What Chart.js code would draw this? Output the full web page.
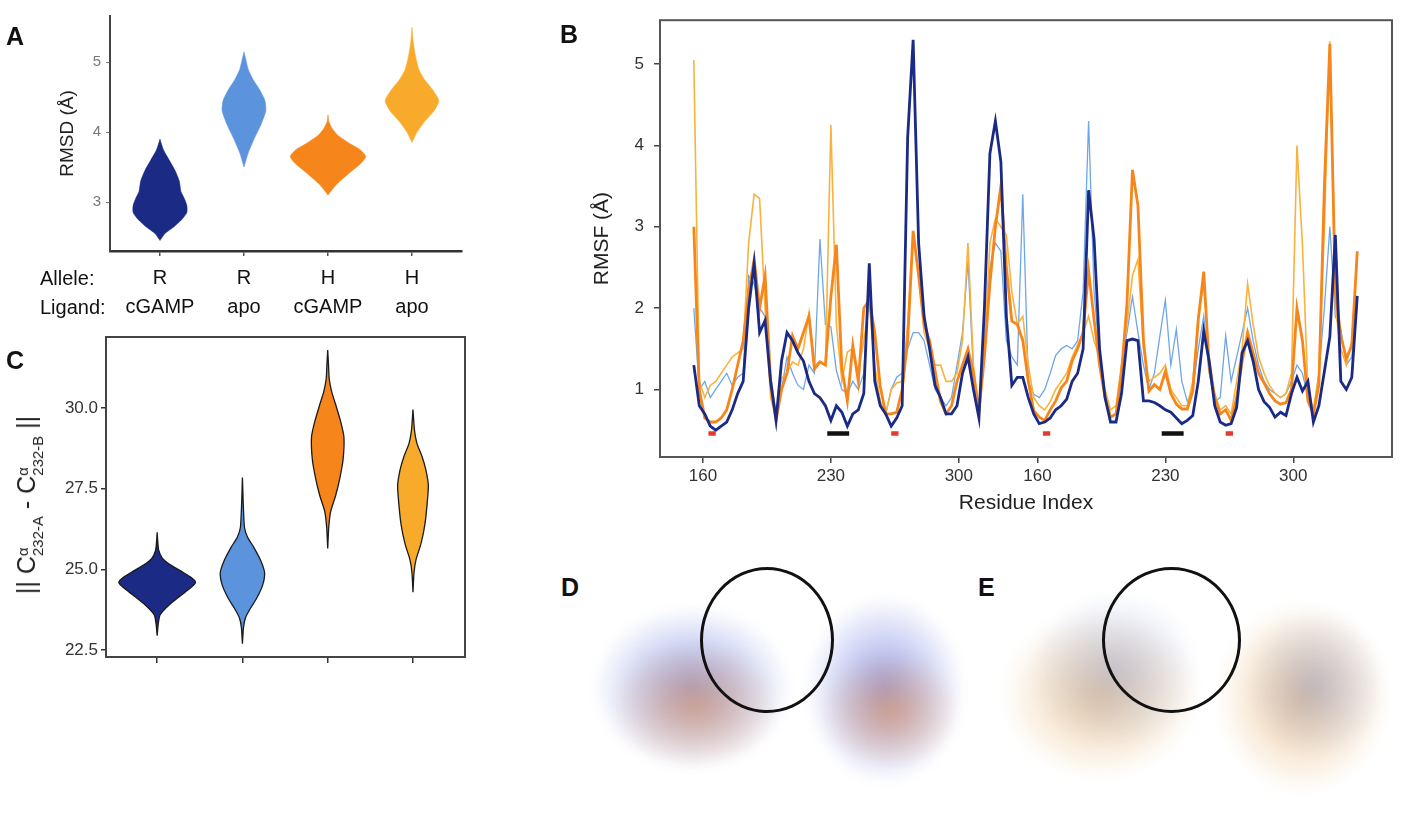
<!DOCTYPE html>
<html>
<head>
<meta charset="utf-8">
<title>RMSD / RMSF panels</title>
<script src="https://cdn.jsdelivr.net/npm/chart.js@4.4.1/dist/chart.umd.min.js"></script>
<style>
  body { margin:0; width:1403px; height:820px; overflow:hidden; position:relative; background:#fff;
         font-family:"Liberation Sans", Arial, Helvetica, sans-serif; color:#111; }
  canvas { position:absolute; }
  .panel { position:absolute; font-weight:bold; font-size:25px; line-height:1; }
  .rowlbl { position:absolute; font-size:20px; line-height:1; transform:translateY(-50%); }
  .ring { position:absolute; border:3px solid #111; border-radius:50%; box-sizing:border-box; }
  .blob { position:absolute; border-radius:50%; filter:blur(5px); }
  #ctitle { position:absolute; left:29px; top:505px; white-space:nowrap; font-size:25px;
            transform:translate(-50%,-50%) rotate(-90deg); color:#222; }
  .ss { display:inline-block; vertical-align:-0.55em; font-size:0.6em; line-height:1.05; text-align:left; }
  .ss span { display:block; }
</style>
</head>
<body>

<!-- structure renderings (panels D and E) are pictures; only a rough impression -->
<div class="blob" style="left:592px;top:605px;width:200px;height:165px;background:radial-gradient(ellipse,rgba(70,95,215,.55),rgba(70,95,215,0) 70%)"></div>
<div class="blob" style="left:610px;top:640px;width:170px;height:130px;background:radial-gradient(ellipse,rgba(225,140,75,.55),rgba(225,140,75,0) 70%)"></div>
<div class="blob" style="left:805px;top:595px;width:160px;height:190px;background:radial-gradient(ellipse,rgba(65,85,215,.55),rgba(65,85,215,0) 70%)"></div>
<div class="blob" style="left:820px;top:650px;width:140px;height:120px;background:radial-gradient(ellipse,rgba(230,140,70,.55),rgba(230,140,70,0) 70%)"></div>
<div class="blob" style="left:1000px;top:610px;width:200px;height:170px;background:radial-gradient(ellipse,rgba(225,165,85,.55),rgba(225,165,85,0) 70%)"></div>
<div class="blob" style="left:1030px;top:590px;width:170px;height:160px;background:radial-gradient(ellipse,rgba(130,150,210,.40),rgba(130,150,210,0) 70%)"></div>
<div class="blob" style="left:1215px;top:600px;width:175px;height:195px;background:radial-gradient(ellipse,rgba(225,160,75,.55),rgba(225,160,75,0) 70%)"></div>
<div class="blob" style="left:1245px;top:610px;width:140px;height:150px;background:radial-gradient(ellipse,rgba(120,140,210,.40),rgba(120,140,210,0) 70%)"></div>
<div class="ring" style="left:700px;top:567px;width:134px;height:146px"></div>
<div class="ring" style="left:1102px;top:567px;width:139px;height:146px"></div>

<canvas id="chartA" width="480" height="320" style="left:0;top:0"></canvas>
<canvas id="chartB" width="843" height="525" style="left:560px;top:0"></canvas>
<canvas id="chartC" width="480" height="370" style="left:0;top:320px"></canvas>

<div class="panel" style="left:6px;top:24px">A</div>
<div class="panel" style="left:560px;top:22px">B</div>
<div class="panel" style="left:6px;top:348px">C</div>
<div class="panel" style="left:561px;top:575px">D</div>
<div class="panel" style="left:978px;top:575px">E</div>

<div class="rowlbl" style="left:40px;top:278px">Allele:</div>
<div class="rowlbl" style="left:40px;top:307px">Ligand:</div>

<div id="ctitle">|| C<span class="ss"><span>α</span><span>232-A</span></span> - C<span class="ss"><span>α</span><span>232-B</span></span> ||</div>

<script>
'use strict';

// ── DATA ─────────────────────────────────────────────────────

const ALLELES = ['R', 'R', 'H', 'H'];
const LIGANDS = ['cGAMP', 'apo', 'cGAMP', 'apo'];
const CAT_POS = [1, 2, 3, 4];

// panel A: RMSD violins (level in Å, half width in category units)
const RMSD_TICKS = [3, 4, 5];
const RMSD_LEVELS_R_CGAMP = [2.45, 2.55, 2.65, 2.75, 2.85, 2.95, 3.05, 3.15, 3.3, 3.45, 3.6, 3.75, 3.9];
const RMSD_WIDTH_R_CGAMP  = [0, .06, .17, .26, .32, .32, .29, .25, .23, .18, .11, .04, 0];
const RMSD_LEVELS_R_APO   = [3.5, 3.7, 3.9, 4.1, 4.3, 4.45, 4.6, 4.75, 4.9, 5.05, 5.15];
const RMSD_WIDTH_R_APO    = [0, .05, .12, .20, .26, .25, .19, .11, .05, .02, 0];
const RMSD_LEVELS_H_CGAMP = [3.1, 3.25, 3.4, 3.55, 3.65, 3.75, 3.85, 3.95, 4.05, 4.15, 4.25];
const RMSD_WIDTH_H_CGAMP  = [0, .10, .24, .39, .45, .38, .24, .12, .05, .01, 0];
const RMSD_LEVELS_H_APO   = [3.85, 4.0, 4.15, 4.3, 4.45, 4.6, 4.75, 4.9, 5.1, 5.3, 5.5];
const RMSD_WIDTH_H_APO    = [0, .06, .15, .26, .32, .25, .15, .08, .04, .014, 0];

// panel C: C-alpha 232 distance violins
const DIST_TICKS = [22.5, 25.0, 27.5, 30.0];
const DIST_LEVELS_R_CGAMP = [22.95, 23.3, 23.6, 23.9, 24.2, 24.45, 24.6, 24.75, 24.95, 25.15, 25.35, 25.6, 25.9, 26.15];
const DIST_WIDTH_R_CGAMP  = [0, .012, .035, .14, .28, .40, .45, .40, .28, .15, .06, .018, .006, 0];
const DIST_LEVELS_R_APO   = [22.7, 23.2, 23.5, 23.8, 24.1, 24.5, 24.9, 25.3, 25.7, 26.0, 26.3, 27.0, 27.85];
const DIST_WIDTH_R_APO    = [0, .012, .035, .094, .165, .235, .26, .21, .13, .06, .024, .01, 0];
const DIST_LEVELS_H_CGAMP = [25.65, 26.3, 26.8, 27.3, 27.8, 28.4, 29.1, 29.6, 30.1, 30.5, 30.9, 31.3, 31.8];
const DIST_WIDTH_H_CGAMP  = [0, .012, .035, .094, .14, .18, .19, .15, .094, .047, .018, .01, 0];
const DIST_LEVELS_H_APO   = [24.3, 24.9, 25.3, 25.8, 26.4, 27.0, 27.6, 28.1, 28.5, 28.9, 29.3, 29.95];
const DIST_WIDTH_H_APO    = [0, .012, .035, .094, .14, .165, .18, .15, .106, .047, .018, 0];

// panel B: RMSF along chain A then chain B (sample index, 0 = residue 155 of chain A)
const SAMPLE_INDEX = [
  0, 3, 6, 9, 12, 15, 18, 21, 24, 27, 30, 33, 36, 39, 42, 45, 48, 51, 54, 57,
  60, 63, 66, 69, 72, 75, 78, 81, 84, 87, 90, 93, 96, 99, 102, 105, 108, 111, 114, 117,
  120, 123, 126, 129, 132, 135, 138, 141, 144, 147, 150, 153, 156, 159, 162, 165, 168, 171, 174, 177,
  180, 183, 186, 189, 192, 195, 198, 201, 204, 207, 210, 213, 216, 219, 222, 225, 228, 231, 234, 237,
  240, 243, 246, 249, 252, 255, 258, 261, 264, 267, 270, 273, 276, 279, 282, 285, 288, 291, 294, 297,
  300, 303, 306, 309, 312, 315, 318, 321, 324, 327, 330, 333, 336, 339, 342, 345, 348, 351, 354, 357,
  360, 363
];
const RMSF_R_CGAMP = [
  1.3, 0.8, 0.7, 0.55, 0.5, 0.55, 0.6, 0.75, 0.95, 1.1,
  2.0, 2.55, 1.7, 1.85, 1.1, 0.62, 1.35, 1.7, 1.6, 1.45,
  1.35, 1.1, 0.95, 0.9, 0.8, 0.62, 0.8, 0.72, 0.55, 0.7,
  0.75, 0.95, 2.55, 1.1, 0.8, 0.7, 0.55, 0.65, 0.8, 4.1,
  5.3, 2.8, 1.9, 1.5, 1.05, 0.9, 0.7, 0.7, 0.8, 1.2,
  1.4, 1.0, 0.65, 2.0, 3.9, 4.3, 3.8, 1.9, 1.05, 1.15,
  1.15, 0.9, 0.7, 0.58, 0.6, 0.65, 0.75, 0.8, 0.88, 1.1,
  1.2, 1.5, 3.45, 2.85, 1.5, 0.9, 0.6, 0.6, 0.95, 1.6,
  1.62, 1.6, 0.86, 0.86, 0.84, 0.8, 0.75, 0.72, 0.65, 0.58,
  0.62, 0.68, 1.1, 1.72, 1.34, 0.8, 0.6, 0.56, 0.58, 0.78,
  1.45, 1.6, 1.35, 1.0, 0.85, 0.78, 0.66, 0.72, 0.68, 0.95,
  1.15, 0.98, 1.1, 0.6, 0.8, 1.22, 1.65, 2.9, 1.1, 1.0,
  1.15, 2.15
];
const RMSF_R_APO = [
  2.0, 1.0, 1.1, 0.9, 1.0, 1.1, 1.2, 1.05, 1.15, 1.2,
  2.4, 2.3, 2.0, 1.9, 1.2, 0.7, 1.0, 1.4, 1.2, 1.05,
  1.0, 1.3, 1.2, 2.85, 1.8, 1.77, 1.23, 1.0, 0.95, 1.1,
  1.0, 1.2, 2.3, 1.2, 0.85, 0.7, 1.0, 1.15, 1.2, 1.5,
  1.7, 1.7, 1.6, 1.3, 1.0, 0.9, 0.8, 0.9, 1.3, 1.7,
  2.58, 1.2, 0.7, 1.6, 2.5, 2.8, 2.7, 1.6, 1.4, 1.3,
  3.4, 1.1, 0.94, 0.9, 1.0, 1.2, 1.42, 1.5, 1.54, 1.5,
  1.6, 2.2, 4.3, 2.2, 1.4, 0.9, 0.65, 0.7, 1.3, 1.7,
  2.14, 1.7, 1.3, 1.0, 1.2, 1.66, 2.1, 1.3, 1.74, 1.1,
  0.85, 1.0, 1.5, 1.9, 1.2, 0.85, 0.9, 1.66, 1.1, 1.4,
  1.7, 2.0, 1.6, 1.3, 1.1, 1.0, 0.95, 0.9, 0.95, 1.1,
  1.3, 1.2, 0.9, 0.7, 1.2, 2.0, 3.0, 1.9, 1.74, 1.3,
  1.4, 2.1
];
const RMSF_H_CGAMP = [
  3.0, 1.0, 0.65, 0.6, 0.6, 0.65, 0.75, 1.0, 1.3, 1.6,
  2.2, 2.6, 2.0, 2.4, 1.1, 0.62, 1.0, 1.2, 1.66, 1.5,
  1.7, 1.9, 1.25, 1.34, 1.3, 2.14, 2.78, 1.26, 0.86, 1.54,
  1.1, 2.0, 2.1, 1.7, 1.04, 0.7, 0.7, 0.72, 1.0, 1.6,
  2.95, 2.4, 1.8, 1.6, 1.23, 0.85, 0.7, 0.8, 1.1, 1.3,
  1.5, 1.2, 0.73, 1.4, 2.3, 3.0, 3.5, 2.5, 1.84, 1.8,
  1.6, 1.1, 0.74, 0.66, 0.62, 0.75, 0.86, 1.02, 1.1, 1.35,
  1.5, 1.7, 2.46, 1.86, 1.3, 0.9, 0.66, 0.7, 1.2, 2.06,
  3.7, 3.26, 1.6, 0.98, 1.06, 1.0, 1.22, 0.95, 0.82, 0.76,
  0.76, 0.98, 1.86, 2.45, 1.26, 0.9, 0.7, 0.75, 0.62, 0.9,
  1.34, 1.7, 1.45, 1.2, 1.08, 0.95, 0.86, 0.82, 0.84, 1.0,
  2.0, 1.6, 0.86, 0.7, 1.06, 3.5, 5.25, 2.2, 1.66, 1.38,
  1.54, 2.7
];
const RMSF_H_APO = [
  5.05, 1.1, 0.9, 1.05, 1.1, 1.2, 1.3, 1.4, 1.45, 1.5,
  2.8, 3.4, 3.35, 2.0, 0.9, 0.65, 1.14, 1.2, 1.34, 1.3,
  1.5, 1.94, 1.3, 1.34, 1.3, 4.25, 1.8, 1.1, 1.46, 1.5,
  1.2, 1.6, 2.06, 1.3, 0.85, 0.7, 1.0, 1.08, 1.1, 1.8,
  2.9, 2.4, 1.7, 1.5, 1.3, 1.3, 1.1, 1.1, 1.2, 1.6,
  2.8, 1.3, 0.75, 1.5, 2.8, 3.1, 3.0, 2.9, 2.2, 1.8,
  1.9, 1.3, 0.9, 0.8, 0.75, 0.85, 1.0, 1.1, 1.2, 1.4,
  1.55, 1.7, 1.9, 1.6, 1.4, 1.0, 0.75, 0.8, 1.3, 1.8,
  2.4, 2.6, 1.5, 1.1, 1.15, 1.2, 1.3, 1.0, 0.9, 0.8,
  0.8, 1.1, 1.9, 2.3, 1.4, 0.95, 0.75, 0.8, 0.7, 1.1,
  1.5, 2.3, 1.8, 1.4, 1.2, 1.05, 0.95, 0.9, 0.95, 1.2,
  4.0, 2.78, 1.0, 0.75, 1.2, 3.0, 5.28, 2.0, 1.5, 1.3,
  1.6, 2.6
];
const RMSF_TICKS = [1, 2, 3, 4, 5];
const RESIDUE_TICK_POS = [5, 75, 145, 188, 258, 328];
const RESIDUE_TICK_LABELS = ['160', '230', '300', '160', '230', '300'];
// marked stretches under the curves
const RED_MARK_FROM = [8, 108, 191, 291];
const RED_MARK_TO   = [12, 112, 195, 295];
const BLACK_MARK_FROM = [73, 256];
const BLACK_MARK_TO   = [85, 268];
const MARK_LEVEL = 0.46;

// ── STYLE ────────────────────────────────────────────────────

const FONT = '"Liberation Sans", Arial, Helvetica, sans-serif';
const NAVY = '#1b2a84';
const SKY = '#6ea6e6';
const ORANGE = '#f6861b';
const AMBER = '#f9b23c';

Chart.defaults.font.family = FONT;
Chart.defaults.animation = false;

// box round the plot area
const framePlugin = {
  id: 'frame',
  afterDatasetsDraw(chart, args, opts) {
    const a = chart.chartArea;
    const ctx = chart.ctx;
    ctx.save();
    ctx.strokeStyle = opts.color || '#444';
    ctx.lineWidth = opts.width || 2;
    ctx.strokeRect(a.left, a.top, a.right - a.left, a.bottom - a.top);
    ctx.restore();
  }
};

function violinOutline(center, levels, halfWidths) {
  const right = levels.map((y, k) => ({ x: center + halfWidths[k], y }));
  const left = levels.map((y, k) => ({ x: center - halfWidths[k], y })).reverse();
  return right.concat(left);
}

function violinSet(center, levels, widths, color, outline) {
  return {
    data: violinOutline(center, levels, widths),
    showLine: true,
    fill: 'shape',
    backgroundColor: color,
    borderColor: outline ? '#1a1a1a' : color,
    borderWidth: outline ? 1.3 : 0.5,
    pointRadius: 0,
    tension: 0.2
  };
}

const NO_PLUGINS = { legend: { display: false }, tooltip: { enabled: false } };

// ── PANEL A ──────────────────────────────────────────────────

new Chart(document.getElementById('chartA'), {
  type: 'scatter',
  data: {
    datasets: [
      violinSet(CAT_POS[0], RMSD_LEVELS_R_CGAMP, RMSD_WIDTH_R_CGAMP, NAVY, false),
      violinSet(CAT_POS[1], RMSD_LEVELS_R_APO, RMSD_WIDTH_R_APO, '#5b93dc', false),
      violinSet(CAT_POS[2], RMSD_LEVELS_H_CGAMP, RMSD_WIDTH_H_CGAMP, ORANGE, false),
      violinSet(CAT_POS[3], RMSD_LEVELS_H_APO, RMSD_WIDTH_H_APO, '#f8aa2a', false)
    ]
  },
  options: {
    responsive: false,
    layout: { padding: { top: 16, right: 18, left: 0, bottom: 0 } },
    plugins: NO_PLUGINS,
    scales: {
      x: {
        type: 'linear', min: 0.405, max: 4.595,
        afterBuildTicks: s => { s.ticks = CAT_POS.map(v => ({ value: v })); },
        afterFit: s => { s.height = 69; },
        grid: { display: true, drawOnChartArea: false, tickLength: 5, color: '#555', lineWidth: 1.5 },
        border: { display: true, color: '#333', width: 2.5 },
        ticks: {
          autoSkip: false, maxRotation: 0, padding: 8, color: '#111',
          font: { size: 20, lineHeight: 1.45 },
          callback: (v, i) => [ALLELES[i], LIGANDS[i]]
        }
      },
      y: {
        min: 2.3, max: 5.66,
        afterBuildTicks: s => { s.ticks = RMSD_TICKS.map(v => ({ value: v })); },
        afterFit: s => { s.width = 110; },
        grid: { display: true, drawOnChartArea: false, tickLength: 4, color: '#777' },
        border: { display: true, color: '#444', width: 2 },
        ticks: { color: '#777', font: { size: 15 }, padding: 5 },
        title: { display: true, text: 'RMSD (Å)', color: '#222', font: { size: 19 }, padding: { top: 56 } }
      }
    }
  }
});

// ── PANEL B ──────────────────────────────────────────────────

function rmsfSet(values, color, width, order) {
  return {
    data: SAMPLE_INDEX.map((x, k) => ({ x, y: values[k] })),
    showLine: true, borderColor: color, backgroundColor: color,
    borderWidth: width, pointRadius: 0, tension: 0, order
  };
}

function markSets(from, to, color) {
  return from.map((x0, k) => ({
    data: [{ x: x0, y: MARK_LEVEL }, { x: to[k], y: MARK_LEVEL }],
    showLine: true, borderColor: color, borderWidth: 4.5, pointRadius: 0, order: 0
  }));
}

new Chart(document.getElementById('chartB'), {
  type: 'scatter',
  data: {
    datasets: [
      rmsfSet(RMSF_R_CGAMP, NAVY, 2.8, 1),
      rmsfSet(RMSF_H_CGAMP, ORANGE, 2.8, 2),
      rmsfSet(RMSF_H_APO, AMBER, 1.6, 3),
      rmsfSet(RMSF_R_APO, SKY, 1.3, 4),
      ...markSets(RED_MARK_FROM, RED_MARK_TO, '#e23b2e'),
      ...markSets(BLACK_MARK_FROM, BLACK_MARK_TO, '#111')
    ]
  },
  plugins: [framePlugin],
  options: {
    responsive: false,
    layout: { padding: { top: 10, right: 11, left: 0, bottom: 0 } },
    plugins: { ...NO_PLUGINS, frame: { color: '#555', width: 2 } },
    scales: {
      x: {
        type: 'linear', min: -18.5, max: 382,
        afterBuildTicks: s => { s.ticks = RESIDUE_TICK_POS.map(v => ({ value: v })); },
        afterFit: s => { s.height = 68; },
        grid: { display: true, drawOnChartArea: false, tickLength: 6, color: '#444', lineWidth: 1.5 },
        border: { display: false },
        ticks: { autoSkip: false, maxRotation: 0, padding: 3, color: '#333', font: { size: 17 },
                 callback: (v, i) => RESIDUE_TICK_LABELS[i] },
        title: { display: true, text: 'Residue Index', color: '#222', font: { size: 21 }, padding: { bottom: 9 } }
      },
      y: {
        min: 0.17, max: 5.54,
        afterBuildTicks: s => { s.ticks = RMSF_TICKS.map(v => ({ value: v })); },
        afterFit: s => { s.width = 100; },
        grid: { display: true, drawOnChartArea: false, tickLength: 6, color: '#444', lineWidth: 1.5 },
        border: { display: false },
        ticks: { color: '#333', font: { size: 17 }, padding: 10 },
        title: { display: true, text: 'RMSF (Å)', color: '#222', font: { size: 21 }, padding: { top: 30 } }
      }
    }
  }
});

// ── PANEL C ──────────────────────────────────────────────────

new Chart(document.getElementById('chartC'), {
  type: 'scatter',
  data: {
    datasets: [
      violinSet(CAT_POS[0], DIST_LEVELS_R_CGAMP, DIST_WIDTH_R_CGAMP, NAVY, true),
      violinSet(CAT_POS[1], DIST_LEVELS_R_APO, DIST_WIDTH_R_APO, '#5b93dc', true),
      violinSet(CAT_POS[2], DIST_LEVELS_H_CGAMP, DIST_WIDTH_H_CGAMP, ORANGE, true),
      violinSet(CAT_POS[3], DIST_LEVELS_H_APO, DIST_WIDTH_H_APO, '#f8aa2a', true)
    ]
  },
  plugins: [framePlugin],
  options: {
    responsive: false,
    layout: { padding: { top: 17, right: 15, left: 0, bottom: 0 } },
    plugins: { ...NO_PLUGINS, frame: { color: '#444', width: 2 } },
    scales: {
      x: {
        type: 'linear', min: 0.4, max: 4.61,
        afterBuildTicks: s => { s.ticks = CAT_POS.map(v => ({ value: v })); },
        afterFit: s => { s.height = 33; },
        grid: { display: true, drawOnChartArea: false, tickLength: 6, color: '#333', lineWidth: 1.5 },
        border: { display: false },
        ticks: { callback: () => '' }
      },
      y: {
        min: 22.29, max: 32.2,
        afterBuildTicks: s => { s.ticks = DIST_TICKS.map(v => ({ value: v })); },
        afterFit: s => { s.width = 106; },
        grid: { display: true, drawOnChartArea: false, tickLength: 5, color: '#333', lineWidth: 1.5 },
        border: { display: false },
        ticks: { color: '#333', font: { size: 17 }, padding: 3, callback: v => v.toFixed(1) }
      }
    }
  }
});
</script>
</body>
</html>
